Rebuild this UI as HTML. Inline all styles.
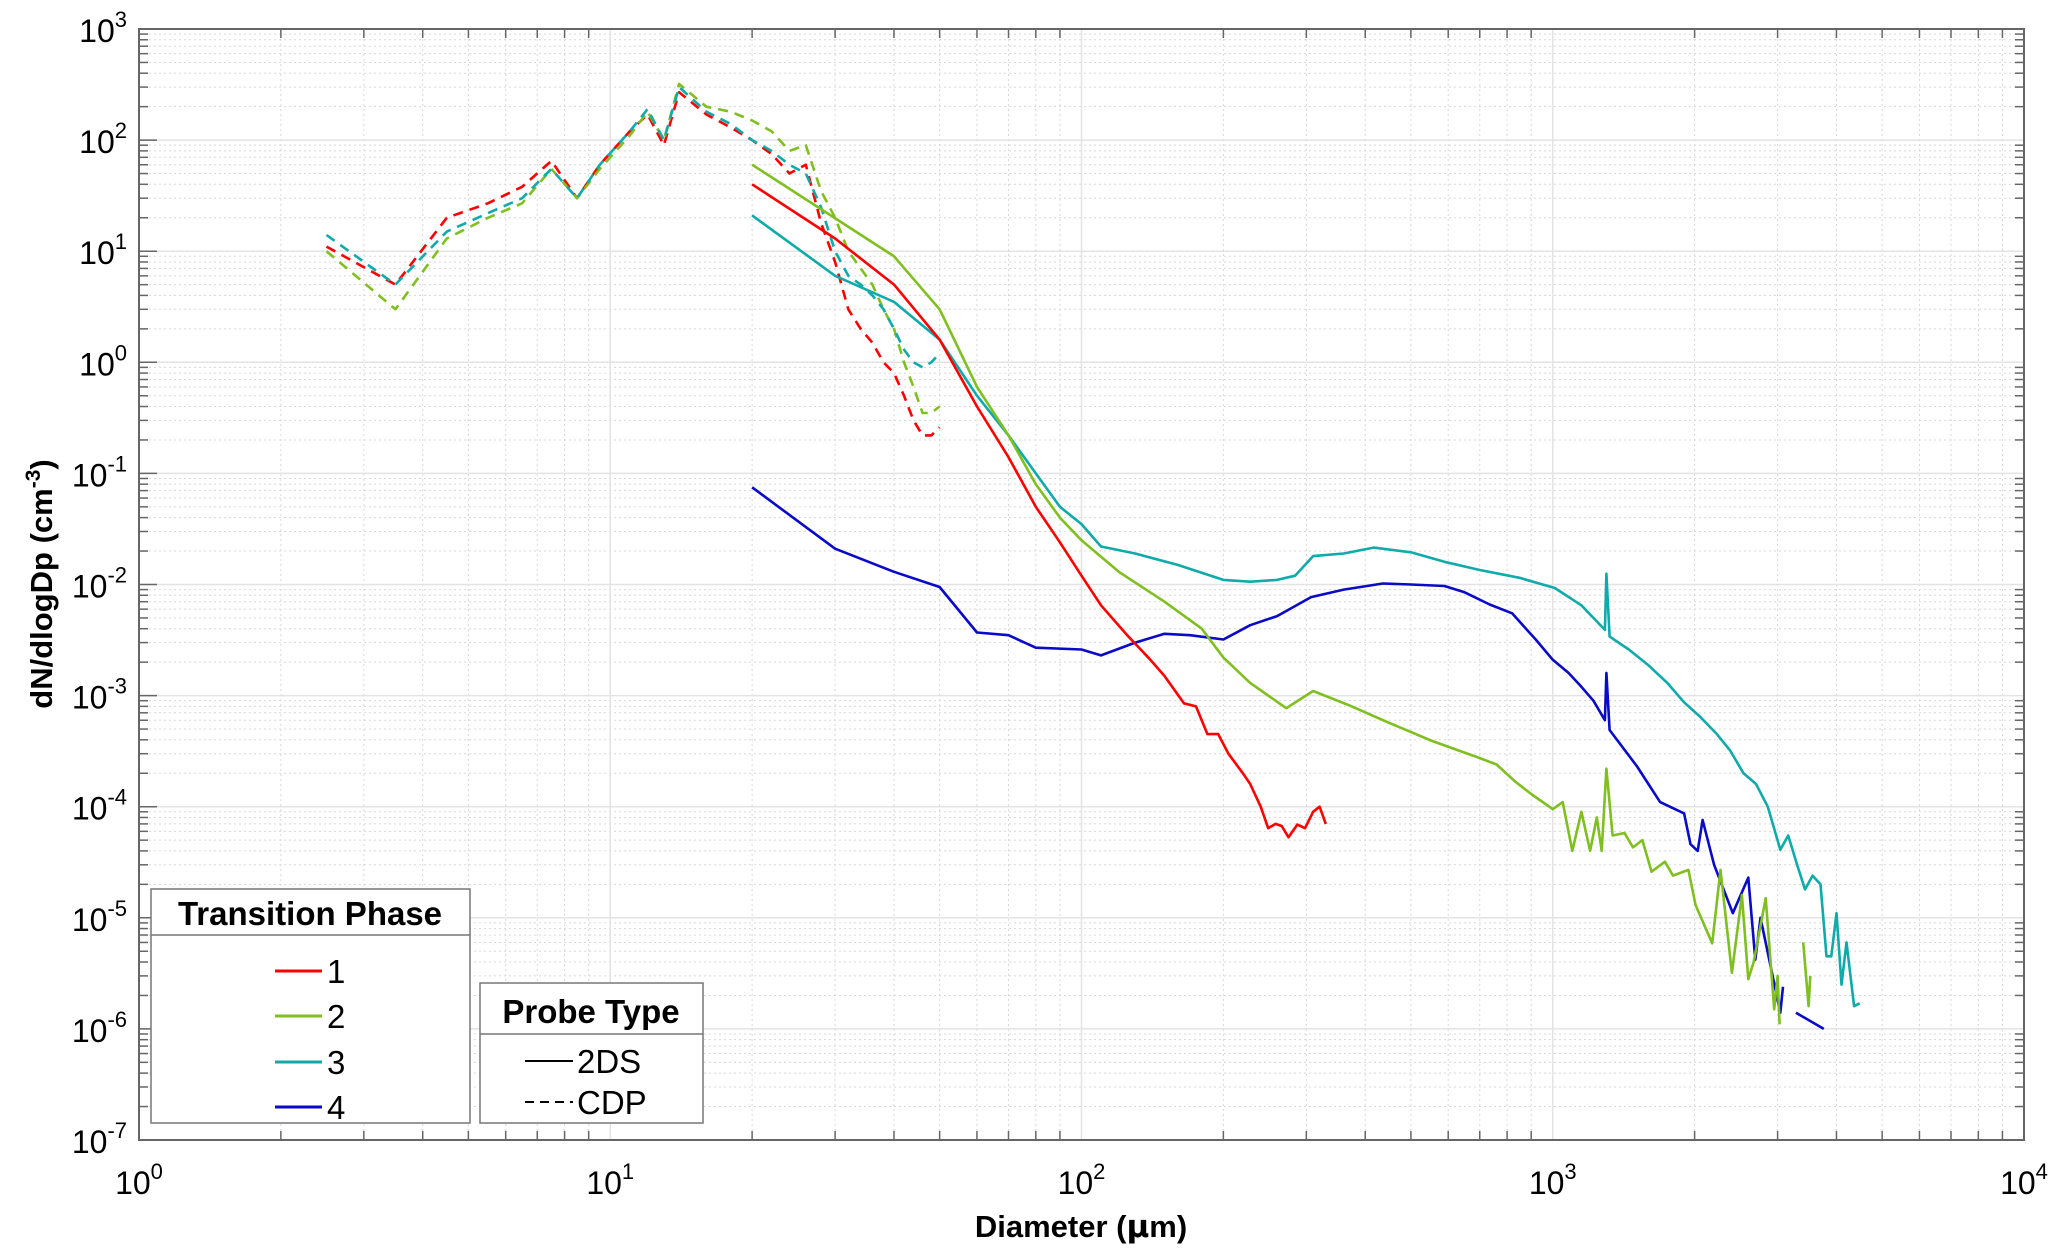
<!DOCTYPE html>
<html><head><meta charset="utf-8"><style>
html,body{margin:0;padding:0;background:#fff;}
svg{display:block;font-family:"Liberation Sans",sans-serif;}
</style></head><body>
<svg id="chart" width="2067" height="1251" viewBox="0 0 2067 1251" xmlns="http://www.w3.org/2000/svg">
<g id="grid"></g>
<g id="series"></g>
<g id="axes"></g>
<text x="1081" y="1237" text-anchor="middle" font-size="31" font-weight="bold">Diameter (<tspan font-family="DejaVu Sans">μ</tspan>m)</text>
<text transform="translate(52,584) rotate(-90)" text-anchor="middle" font-size="31" font-weight="bold">dN/dlogDp (cm<tspan dy="-12" font-size="21">-3</tspan><tspan dy="12">)</tspan></text>
<g>
<rect x="151" y="889" width="319" height="234" fill="#fff" stroke="#777" stroke-width="1.5"/>
<line x1="151" y1="935" x2="470" y2="935" stroke="#777" stroke-width="1.5"/>
<text x="310" y="925" text-anchor="middle" font-size="33" font-weight="bold">Transition Phase</text>
<line x1="275" y1="971" x2="322" y2="971" stroke="#ff0000" stroke-width="3"/><text x="327" y="983" font-size="33">1</text>
<line x1="275" y1="1016" x2="322" y2="1016" stroke="#7fbf1f" stroke-width="3"/><text x="327" y="1028" font-size="33">2</text>
<line x1="275" y1="1062" x2="322" y2="1062" stroke="#10aaaa" stroke-width="3"/><text x="327" y="1074" font-size="33">3</text>
<line x1="275" y1="1107" x2="322" y2="1107" stroke="#0a0ac8" stroke-width="3"/><text x="327" y="1119" font-size="33">4</text>
</g>
<g>
<rect x="480" y="983" width="223" height="140" fill="#fff" stroke="#777" stroke-width="1.5"/>
<line x1="480" y1="1034" x2="703" y2="1034" stroke="#777" stroke-width="1.5"/>
<text x="591" y="1023" text-anchor="middle" font-size="33" font-weight="bold">Probe Type</text>
<line x1="525" y1="1061" x2="573" y2="1061" stroke="#000" stroke-width="2"/><text x="577" y="1073" font-size="33">2DS</text>
<line x1="525" y1="1102" x2="573" y2="1102" stroke="#000" stroke-width="2" stroke-dasharray="9,6"/><text x="577" y="1114" font-size="33">CDP</text>
</g>
</svg>
<script>
const cdpD=[2.5,3.5,4.5,5.5,6.5,7.5,8.5,9.5,11,12,13,14,16,18,20,22,24,26,28,30,32,34,36,38,40,42,44,46,48,50];
const cdp1=[11,5,20,27,38,65,30,60,120,170,90,270,170,130,100,75,50,60,18,8,3,2,1.5,1.0,0.8,0.5,0.3,0.22,0.22,0.26];
const cdp2=[10,3,13,20,27,55,30,55,110,180,100,320,200,180,150,120,80,90,35,20,10,7,5,3,2,1,0.6,0.35,0.35,0.4];
const cdp3=[14,5,15,22,30,55,30,60,120,190,100,300,180,140,100,80,60,50,25,10,6,5,4,3,2,1.3,1.0,0.9,1.0,1.2];
const d1=[20,30,40,50,60,70,80,90,100,110,125,140,150,165,175,185,195,205,220,228,240,249,258,266,275,287,298,310,320,330];
const v1=[40,13,5,1.6,0.4,0.14,0.05,0.024,0.012,0.0065,0.0035,0.0021,0.0015,0.00085,0.0008,0.00045,0.00045,0.0003,0.0002,0.00016,0.0001,0.000064,0.00007,0.000067,0.000053,0.000069,0.000064,0.00009,0.0001,0.00007];
const d2=[20,40,50,60,70,80,90,100,120,150,180,200,228,272,310,372,445,555,690,760,830,900,1000,1050,1100,1150,1200,1240,1270,1300,1340,1420,1480,1550,1620,1730,1800,1940,2010,2180,2270,2400,2520,2600,2670,2830,2950,3000,3030,3200,3400,3490,3520];
const v2=[60,9,3,0.6,0.22,0.08,0.04,0.025,0.013,0.007,0.004,0.0022,0.0013,0.00077,0.0011,0.00081,0.00058,0.00039,0.00028,0.00024,0.00017,0.00013,0.000095,0.00011,0.00004,0.00009,0.00004,0.00008,0.00004,0.00022,0.000055,0.000058,0.000043,0.00005,0.000026,0.000032,0.000024,0.000027,0.000013,0.0000059,0.000027,0.0000032,0.000016,0.0000028,0.000004,0.000015,0.0000015,0.000003,0.0000011,null,0.000006,0.0000016,0.000003];
const d3=[20,30,40,50,60,70,80,90,100,110,130,160,200,228,260,284,310,360,417,500,589,700,850,1010,1150,1290,1300,1320,1450,1590,1750,1900,2050,2220,2380,2540,2700,2860,3040,3160,3300,3430,3560,3700,3810,3900,4000,4100,4200,4360,4480];
const v3=[21,6,3.5,1.6,0.5,0.22,0.1,0.05,0.035,0.022,0.019,0.015,0.011,0.0106,0.011,0.012,0.018,0.019,0.0215,0.0195,0.016,0.0135,0.0115,0.0093,0.0065,0.0039,0.0125,0.0034,0.0026,0.0019,0.0013,0.00087,0.00065,0.00046,0.00032,0.0002,0.00016,0.0001,0.000041,0.000055,0.00003,0.000018,0.000024,0.00002,0.0000045,0.0000045,0.000011,0.0000025,0.000006,0.0000016,0.0000017];
const d4=[20,30,40,50,60,70,80,100,110,130,150,170,200,228,260,307,360,436,500,589,650,735,820,920,1000,1080,1150,1220,1290,1300,1320,1510,1690,1900,1960,2030,2080,2200,2410,2600,2690,2760,3040,3080,3230,3280,3760,3830];
const v4=[0.075,0.021,0.013,0.0095,0.0037,0.0035,0.0027,0.0026,0.0023,0.003,0.0036,0.0035,0.0032,0.0043,0.0052,0.0077,0.009,0.0102,0.01,0.0097,0.0085,0.0066,0.0055,0.0032,0.0021,0.0016,0.0012,0.0009,0.0006,0.0016,0.00049,0.00023,0.00011,0.000087,0.000046,0.00004,0.000076,0.00003,0.000011,0.000023,0.0000042,0.00001,0.0000014,0.0000024,null,0.0000014,0.000001,null,0.0000015,0.0000028];
const xTicks=[0,1,2,3,4];
const yTicks=[-7,-6,-5,-4,-3,-2,-1,0,1,2,3];
const L=139,R=2024,T=29,B=1140;
const X=v=>L+(Math.log10(v)-0)/4*(R-L);
const Y=v=>B-(Math.log10(v)+7)/10*(B-T);
const NS="http://www.w3.org/2000/svg";
function mk(tag,parent,attrs){const e=document.createElementNS(NS,tag);for(const k in attrs)e.setAttribute(k,attrs[k]);parent.appendChild(e);return e;}
const grid=document.getElementById('grid'),axes=document.getElementById('axes'),ser=document.getElementById('series');
for(let e=0;e<4;e++)for(let m=2;m<10;m++){const x=X(m*Math.pow(10,e));const g=mk('line',grid,{x1:x,x2:x,y1:T,y2:B,stroke:'#d8d8d8','stroke-width':1,'stroke-dasharray':'2,3'});
 const t=mk('line',axes,{x1:x,x2:x,y1:B,y2:B-9,stroke:'#666','stroke-width':1.5});
 const t2=mk('line',axes,{x1:x,x2:x,y1:T,y2:T+9,stroke:'#666','stroke-width':1.5});}
for(let e=-7;e<3;e++)for(let m=2;m<10;m++){const y=Y(m*Math.pow(10,e));const g=mk('line',grid,{x1:L,x2:R,y1:y,y2:y,stroke:'#d8d8d8','stroke-width':1,'stroke-dasharray':'2,3'});
 const t=mk('line',axes,{x1:L,x2:L+9,y1:y,y2:y,stroke:'#666','stroke-width':1.5});
 const t2=mk('line',axes,{x1:R,x2:R-9,y1:y,y2:y,stroke:'#666','stroke-width':1.5});}
xTicks.forEach(e=>{const x=X(Math.pow(10,e));const g=mk('line',grid,{x1:x,x2:x,y1:T,y2:B,stroke:'#e3e3e3','stroke-width':1.5});
 const t=mk('text',axes,{x:x,y:B+54,'text-anchor':'middle','font-size':32});t.innerHTML='10<tspan dy="-15" font-size="22">'+e+'</tspan>';});
yTicks.forEach(e=>{const y=Y(Math.pow(10,e));const g=mk('line',grid,{x1:L,x2:R,y1:y,y2:y,stroke:'#e3e3e3','stroke-width':1.5});
 const t1=mk('line',axes,{x1:L,x2:L+18,y1:y,y2:y,stroke:'#666','stroke-width':1.5});
 const t=mk('text',axes,{x:L-12,y:y+13,'text-anchor':'end','font-size':32});t.innerHTML='10<tspan dy="-15" font-size="22">'+e+'</tspan>';});
const fr=mk('rect',axes,{x:L,y:T,width:R-L,height:B-T,fill:'none',stroke:'#666','stroke-width':2});

function line(d,v,color,dash,name){let p='',pen=false;
 d.forEach((x,i)=>{if(v[i]==null){pen=false;return;}p+=(pen?'L':'M')+X(x).toFixed(1)+','+Y(v[i]).toFixed(1);pen=true;});
 const e=mk('path',ser,{d:p,fill:'none',stroke:color,'stroke-width':2.6,'stroke-linejoin':'round'});if(dash)e.setAttribute('stroke-dasharray','10,7');
 }
line(cdpD,cdp1,'#ff0000',true,'cdp-phase-1');
line(cdpD,cdp2,'#7fbf1f',true,'cdp-phase-2');
line(cdpD,cdp3,'#10aaaa',true,'cdp-phase-3');
line(d4,v4,'#0a0ac8',false,'2ds-phase-4');
line(d3,v3,'#10aaaa',false,'2ds-phase-3');
line(d2,v2,'#7fbf1f',false,'2ds-phase-2');
line(d1,v1,'#ff0000',false,'2ds-phase-1');
</script>
</body></html>
